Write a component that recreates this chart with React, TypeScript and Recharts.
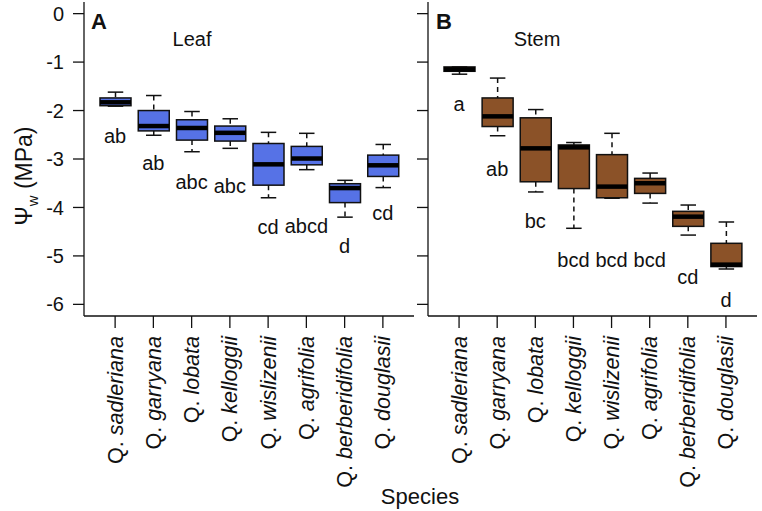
import React from 'react';
import { ComposedChart, Bar, Scatter, XAxis, YAxis } from 'recharts';

const species = [
  'sadleriana',
  'garryana',
  'lobata',
  'kelloggii',
  'wislizenii',
  'agrifolia',
  'berberidifolia',
  'douglasii',
];

const yTicks = [0, -1, -2, -3, -4, -5, -6];

// Leaf water potential (MPa)
const leafMax = [-1.62, -1.69, -2.02, -2.17, -2.45, -2.47, -3.44, -2.7];
const leafQ3 = [-1.74, -2.0, -2.19, -2.32, -2.68, -2.74, -3.51, -2.92];
const leafMed = [-1.83, -2.32, -2.36, -2.46, -3.11, -2.99, -3.6, -3.13];
const leafQ1 = [-1.9, -2.42, -2.61, -2.63, -3.54, -3.12, -3.9, -3.36];
const leafMin = [-1.91, -2.51, -2.85, -2.78, -3.8, -3.22, -4.2, -3.59];
const leafLetters = ['ab', 'ab', 'abc', 'abc', 'cd', 'abcd', 'd', 'cd'];
const leafLetterY = [-2.53, -3.08, -3.47, -3.56, -4.4, -4.38, -4.79, -4.11];

// Stem water potential (MPa)
const stemMax = [-1.1, -1.33, -1.98, -2.66, -2.47, -3.29, -3.95, -4.3];
const stemQ3 = [-1.1, -1.74, -2.15, -2.71, -2.91, -3.4, -4.08, -4.74];
const stemMed = [-1.15, -2.12, -2.78, -2.76, -3.57, -3.5, -4.19, -5.18];
const stemQ1 = [-1.19, -2.33, -3.47, -3.61, -3.8, -3.71, -4.39, -5.22];
const stemMin = [-1.25, -2.52, -3.68, -4.43, -3.81, -3.91, -4.57, -5.27];
const stemLetters = ['a', 'ab', 'bc', 'bcd', 'bcd', 'bcd', 'cd', 'd'];
const stemLetterY = [-1.87, -3.21, -4.27, -5.08, -5.08, -5.08, -5.43, -5.91];

const font = 'Liberation Sans, Arial, Helvetica, sans-serif';

function buildRows(mx: number[], q3: number[], md: number[], q1: number[], mn: number[], letters: string[], ly: number[]) {
  return species.map((name, i) => ({
    name,
    range: [mn[i], mx[i]],
    max: mx[i],
    q3: q3[i],
    median: md[i],
    q1: q1[i],
    min: mn[i],
    letter: letters[i],
    letterY: ly[i],
  }));
}

const leafRows = buildRows(leafMax, leafQ3, leafMed, leafQ1, leafMin, leafLetters, leafLetterY);
const stemRows = buildRows(stemMax, stemQ3, stemMed, stemQ1, stemMin, stemLetters, stemLetterY);

function BoxShape(props: any) {
  const { x, y, width, height, payload, fill } = props;
  const top = Math.min(y, y + height);
  const bot = Math.max(y, y + height);
  const span = payload.max - payload.min || 1;
  const py = (v: number) => top + ((payload.max - v) / span) * (bot - top);
  const cx = x + width / 2;
  const cap = width / 4;
  const ink = '#111';
  return (
    <g>
      <line x1={cx} x2={cx} y1={py(payload.max)} y2={py(payload.q3)} stroke={ink} strokeWidth={1.5} strokeDasharray="5 4" />
      <line x1={cx} x2={cx} y1={py(payload.q1)} y2={py(payload.min)} stroke={ink} strokeWidth={1.5} strokeDasharray="5 4" />
      <line x1={cx - cap} x2={cx + cap} y1={py(payload.max)} y2={py(payload.max)} stroke={ink} strokeWidth={1.5} />
      <line x1={cx - cap} x2={cx + cap} y1={py(payload.min)} y2={py(payload.min)} stroke={ink} strokeWidth={1.5} />
      <rect x={x} y={py(payload.q3)} width={width} height={Math.max(py(payload.q1) - py(payload.q3), 0.5)} fill={fill} stroke={ink} strokeWidth={1.5} />
      <line x1={x} x2={x + width} y1={py(payload.median)} y2={py(payload.median)} stroke="#000" strokeWidth={4.5} />
    </g>
  );
}

function LetterShape(props: any) {
  const { cx, cy, payload } = props;
  return (
    <text x={cx} y={cy} dy="0.35em" textAnchor="middle" fontSize={20} fontFamily={font} fill="#111">
      {payload.letter}
    </text>
  );
}

function SpeciesTick(props: any) {
  const { x, y, payload } = props;
  return (
    <text x={x} y={y} dy="0.35em" textAnchor="end" transform={`rotate(-90 ${x} ${y})`} fontSize={21.5} fontFamily={font} fill="#111">
      <tspan>Q. </tspan>
      <tspan fontStyle="italic">{payload.value}</tspan>
    </text>
  );
}

const NoTick = () => <g />;

function Panel({ rows, fill, left, width, yAxisWidth, rightMargin, showLabels }: any) {
  return (
    <div style={{ position: 'absolute', left, top: 0 }}>
      <ComposedChart width={width} height={511} data={rows} margin={{ top: 2, right: rightMargin, bottom: 0, left: 0 }}>
        <XAxis
          dataKey="name"
          type="category"
          height={195}
          padding={{ left: 12, right: 12 }}
          interval={0}
          tickSize={12}
          tickMargin={8}
          tickLine={{ stroke: '#111', strokeWidth: 1.3 }}
          axisLine={{ stroke: '#111', strokeWidth: 1.3 }}
          tick={<SpeciesTick />}
        />
        <XAxis xAxisId="top" orientation="top" type="number" domain={[0, 1]} ticks={[]} height={0} tick={false} tickLine={false} axisLine={{ stroke: '#111', strokeWidth: 1.3 }} />
        <YAxis
          type="number"
          domain={[-6.24, 0.24]}
          ticks={yTicks}
          width={yAxisWidth}
          tickSize={11}
          tickMargin={9}
          tickLine={{ stroke: '#111', strokeWidth: 1.3 }}
          axisLine={{ stroke: '#111', strokeWidth: 1.3 }}
          tick={showLabels ? { fill: '#111', fontSize: 20, fontFamily: font } : <NoTick />}
        />
        <YAxis yAxisId="right" orientation="right" type="number" domain={[0, 1]} ticks={[]} width={0} tick={false} tickLine={false} axisLine={{ stroke: '#111', strokeWidth: 1.3 }} />
        <Bar dataKey="range" fill={fill} barSize={31} shape={<BoxShape />} isAnimationActive={false} />
        <Scatter dataKey="letterY" shape={<LetterShape />} isAnimationActive={false} />
      </ComposedChart>
    </div>
  );
}

export default function App() {
  return (
    <div style={{ position: 'absolute', left: 0, top: 0, width: 762, height: 511, background: '#fff', overflow: 'hidden' }}>
      <Panel rows={leafRows} fill="#5672E6" left={0} width={430} yAxisWidth={84} rightMargin={16} showLabels />
      <Panel rows={stemRows} fill="#8B5228" left={410} width={352} yAxisWidth={18} rightMargin={5} showLabels={false} />
      <svg width={762} height={511} style={{ position: 'absolute', left: 0, top: 0, pointerEvents: 'none' }}>
        <text x={91} y={29} fontSize={22} fontWeight="bold" fontFamily={font} fill="#111">A</text>
        <text x={192} y={46} textAnchor="middle" fontSize={20} fontFamily={font} fill="#111">Leaf</text>
        <text x={436} y={29} fontSize={22} fontWeight="bold" fontFamily={font} fill="#111">B</text>
        <text x={537} y={46} textAnchor="middle" fontSize={20} fontFamily={font} fill="#111">Stem</text>
        <text x={420} y={504} textAnchor="middle" fontSize={22} fontFamily={font} fill="#111">Species</text>
        <text x={0} y={0} transform="translate(32 176) rotate(-90)" textAnchor="middle" fontSize={23} fontFamily={font} fill="#111">
          <tspan>Ψ</tspan>
          <tspan fontSize={15} dy={6}>w</tspan>
          <tspan dy={-6}> (MPa)</tspan>
        </text>
      </svg>
    </div>
  );
}
